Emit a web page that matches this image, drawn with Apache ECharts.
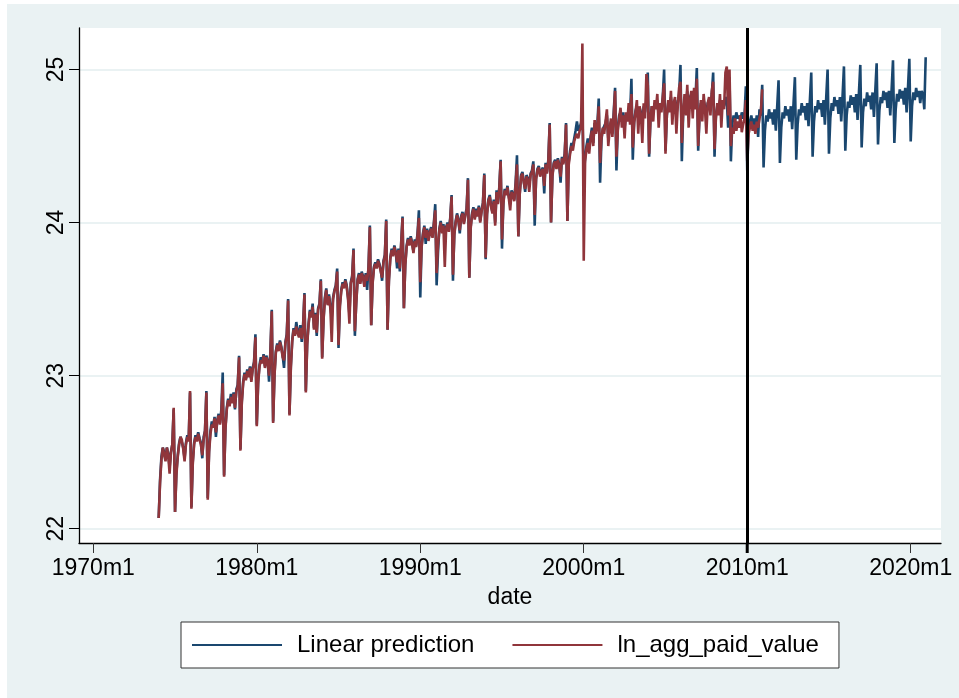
<!DOCTYPE html>
<html>
<head>
<meta charset="utf-8">
<script src="https://cdn.jsdelivr.net/npm/echarts@6/dist/echarts.min.js"></script>
<style>
html,body{margin:0;padding:0;background:#fff;}
#chart{width:959px;height:698px;}
</style>
</head>
<body>
<div id="chart"></div>
<script>
// Stata monthly dates: months since 1960m1
var startYear = 1974;
var refLineMonth = 600; // 2010m1
var xTickValues = [120, 240, 360, 480, 600, 720];
var yTickValues = [22, 23, 24, 25];
var seriesNames = ['Linear prediction', 'ln_agg_paid_value'];

// Linear prediction, one row per year (Jan..Dec), 1974-2020
var predRows = [
[22.07,22.32,22.47,22.53,22.50,22.45,22.53,22.49,22.40,22.50,22.55,22.78],
[22.11,22.37,22.48,22.56,22.60,22.59,22.53,22.46,22.56,22.61,22.58,22.89],
[22.14,22.44,22.56,22.61,22.58,22.63,22.59,22.56,22.46,22.60,22.64,22.90],
[22.20,22.52,22.64,22.70,22.67,22.73,22.60,22.71,22.75,22.69,22.78,23.02],
[22.35,22.66,22.79,22.85,22.81,22.88,22.83,22.89,22.78,22.91,22.94,23.13],
[22.52,22.83,22.96,23.02,22.98,23.04,23.00,23.06,22.97,23.05,23.09,23.27],
[22.68,22.96,23.07,23.12,23.09,23.14,23.06,23.13,23.10,22.96,23.16,23.43],
[22.70,23.01,23.16,23.21,23.17,23.23,23.19,23.13,23.05,23.22,23.27,23.50],
[22.75,23.06,23.23,23.31,23.27,23.35,23.29,23.26,23.33,23.22,23.33,23.54],
[22.90,23.21,23.34,23.43,23.39,23.47,23.31,23.41,23.26,23.44,23.47,23.63],
[23.12,23.37,23.51,23.57,23.47,23.53,23.45,23.38,23.51,23.56,23.59,23.70],
[23.18,23.46,23.56,23.61,23.58,23.63,23.59,23.51,23.40,23.61,23.65,23.83],
[23.26,23.48,23.63,23.67,23.61,23.68,23.65,23.59,23.67,23.56,23.71,23.98],
[23.33,23.61,23.71,23.74,23.71,23.76,23.73,23.69,23.62,23.75,23.79,24.02],
[23.30,23.63,23.77,23.83,23.79,23.85,23.81,23.70,23.83,23.68,23.87,24.04],
[23.44,23.73,23.85,23.90,23.86,23.91,23.87,23.81,23.89,23.85,23.93,24.08],
[23.51,23.85,23.93,23.98,23.86,23.96,23.89,23.94,23.97,23.91,24.00,24.12],
[23.59,23.80,23.96,24.01,23.94,23.99,23.90,23.97,24.00,23.95,24.03,24.18],
[23.62,23.93,24.01,24.06,24.02,23.93,24.04,24.07,24.00,24.05,24.09,24.29],
[23.64,23.97,24.06,24.10,24.03,24.09,24.05,24.11,24.01,24.08,24.13,24.32],
[23.76,24.06,24.15,24.18,24.11,24.07,24.15,24.00,24.21,24.13,24.23,24.41],
[23.83,24.13,24.22,24.19,24.24,24.17,24.12,24.21,24.19,24.15,24.26,24.44],
[23.91,24.19,24.31,24.33,24.27,24.20,24.31,24.29,24.24,24.32,24.34,24.40],
[23.98,24.29,24.35,24.37,24.31,24.34,24.36,24.19,24.39,24.33,24.41,24.65],
[24.00,24.31,24.39,24.41,24.36,24.42,24.38,24.26,24.43,24.39,24.45,24.65],
[24.01,24.40,24.47,24.52,24.50,24.55,24.60,24.66,24.60,24.62,24.65,24.72],
[24.30,24.42,24.50,24.55,24.48,24.56,24.62,24.52,24.65,24.60,24.64,24.81],
[24.26,24.54,24.61,24.60,24.65,24.70,24.55,24.62,24.66,24.58,24.72,24.88],
[24.34,24.62,24.70,24.72,24.66,24.72,24.62,24.70,24.68,24.74,24.70,24.94],
[24.41,24.66,24.73,24.76,24.68,24.75,24.72,24.64,24.76,24.72,24.80,24.98],
[24.43,24.68,24.76,24.72,24.78,24.75,24.80,24.70,24.78,24.74,24.82,25.00],
[24.47,24.70,24.78,24.74,24.82,24.72,24.78,24.80,24.70,24.78,24.84,25.03],
[24.40,24.72,24.80,24.76,24.86,24.74,24.82,24.84,24.76,24.86,24.80,25.01],
[24.47,24.70,24.78,24.74,24.80,24.76,24.70,24.78,24.80,24.74,24.84,24.98],
[24.43,24.70,24.76,24.74,24.80,24.72,24.78,24.76,24.82,24.80,24.62,24.95],
[24.40,24.64,24.70,24.66,24.72,24.68,24.70,24.66,24.72,24.68,24.70,24.89],
[24.34,24.62,24.66,24.70,24.64,24.68,24.62,24.70,24.56,24.74,24.70,24.90],
[24.36,24.60,24.70,24.66,24.74,24.68,24.72,24.64,24.74,24.60,24.76,24.93],
[24.39,24.62,24.72,24.68,24.76,24.70,24.74,24.66,24.76,24.61,24.78,24.95],
[24.41,24.64,24.74,24.70,24.78,24.72,24.76,24.67,24.78,24.63,24.80,24.98],
[24.43,24.66,24.76,24.72,24.80,24.74,24.78,24.69,24.80,24.64,24.82,25.00],
[24.45,24.68,24.78,24.73,24.82,24.76,24.80,24.71,24.82,24.66,24.83,25.02],
[24.47,24.70,24.79,24.75,24.83,24.77,24.82,24.72,24.84,24.67,24.85,25.03],
[24.49,24.72,24.81,24.76,24.85,24.79,24.83,24.74,24.85,24.69,24.86,25.04],
[24.51,24.73,24.82,24.78,24.86,24.80,24.85,24.75,24.86,24.70,24.87,25.06],
[24.52,24.74,24.84,24.79,24.87,24.81,24.86,24.77,24.88,24.72,24.88,25.07],
[24.53,24.76,24.85,24.80,24.88,24.82,24.86,24.78,24.86,24.84,24.74,25.08]
];

// ln_agg_paid_value, one row per year (Jan..Dec), 1974-2010
var actualRows = [
[22.07,22.30,22.45,22.53,22.52,22.44,22.53,22.48,22.36,22.50,22.55,22.79],
[22.11,22.35,22.47,22.55,22.60,22.58,22.52,22.44,22.55,22.60,22.57,22.90],
[22.13,22.42,22.55,22.60,22.57,22.62,22.58,22.55,22.48,22.58,22.64,22.89],
[22.19,22.50,22.62,22.68,22.66,22.72,22.63,22.70,22.74,22.68,22.76,22.95],
[22.34,22.65,22.78,22.84,22.80,22.86,22.82,22.88,22.79,22.90,22.93,23.12],
[22.51,22.82,22.95,23.01,22.97,23.03,22.99,23.05,22.96,23.04,23.08,23.25],
[22.67,22.95,23.06,23.10,23.08,23.13,23.05,23.12,23.09,23.00,23.15,23.42],
[22.69,23.00,23.15,23.20,23.16,23.22,23.18,23.12,23.10,23.21,23.26,23.49],
[22.74,23.05,23.22,23.30,23.26,23.32,23.28,23.25,23.31,23.24,23.32,23.53],
[22.89,23.20,23.33,23.42,23.38,23.45,23.30,23.40,23.28,23.43,23.46,23.62],
[23.11,23.36,23.50,23.56,23.46,23.52,23.44,23.22,23.50,23.55,23.58,23.68],
[23.20,23.45,23.55,23.60,23.57,23.62,23.58,23.50,23.34,23.60,23.64,23.82],
[23.29,23.47,23.62,23.66,23.60,23.67,23.64,23.58,23.66,23.62,23.70,23.97],
[23.33,23.60,23.70,23.73,23.70,23.75,23.72,23.68,23.64,23.74,23.78,24.01],
[23.30,23.62,23.76,23.82,23.78,23.84,23.80,23.74,23.82,23.70,23.86,24.03],
[23.44,23.72,23.84,23.89,23.85,23.90,23.86,23.80,23.88,23.84,23.92,24.03],
[23.61,23.84,23.92,23.97,23.90,23.95,23.88,23.93,23.96,23.90,23.99,24.08],
[23.67,23.85,23.95,24.00,23.93,23.98,23.71,23.96,23.99,23.94,24.02,24.17],
[23.66,23.92,24.00,24.05,24.01,23.95,24.03,24.06,23.99,24.04,24.08,24.28],
[23.64,23.96,24.05,24.09,24.02,24.08,24.04,24.10,24.00,24.07,24.12,24.31],
[23.77,24.05,24.14,24.17,24.10,24.06,24.14,23.98,24.20,24.12,24.22,24.40],
[23.89,24.12,24.21,24.18,24.23,24.16,24.08,24.20,24.18,24.14,24.25,24.38],
[23.91,24.18,24.30,24.32,24.26,24.22,24.30,24.28,24.20,24.31,24.33,24.38],
[24.05,24.28,24.34,24.36,24.30,24.33,24.35,24.24,24.38,24.32,24.40,24.64],
[24.00,24.30,24.38,24.40,24.35,24.41,24.37,24.30,24.42,24.38,24.44,24.64],
[24.01,24.38,24.45,24.50,24.47,24.53,24.56,24.58,24.55,24.60,24.62,25.17],
[23.75,24.40,24.48,24.52,24.45,24.55,24.60,24.50,24.67,24.58,24.62,24.76],
[24.39,24.55,24.62,24.58,24.66,24.74,24.50,24.60,24.68,24.56,24.70,24.86],
[24.43,24.60,24.68,24.75,24.62,24.70,24.55,24.72,24.66,24.78,24.64,24.84],
[24.49,24.65,24.72,24.80,24.58,24.76,24.70,24.52,24.78,24.68,24.97,24.90],
[24.45,24.68,24.76,24.66,24.80,24.74,24.84,24.62,24.78,24.72,24.82,24.91],
[24.45,24.70,24.80,24.72,24.86,24.64,24.78,24.82,24.58,24.76,24.88,24.92],
[24.52,24.72,24.84,24.70,24.90,24.62,24.80,24.86,24.68,24.88,24.74,24.94],
[24.50,24.70,24.80,24.66,24.84,24.74,24.58,24.78,24.82,24.70,24.86,24.92],
[24.48,24.68,24.78,24.70,24.84,24.62,24.80,24.74,24.98,25.02,24.70,25.00],
[24.50,24.62,24.58,24.68,24.60,24.66,24.62,24.70,24.59,24.64,24.68,24.80],
[24.40,24.58,24.62,24.66,24.60,24.64,24.58,24.66,24.62,24.68,24.72,24.87]
];

function toPoints(rows) {
  var out = [];
  for (var i = 0; i < rows.length; i++) {
    for (var j = 0; j < rows[i].length; j++) {
      out.push([(startYear + i - 1960) * 12 + j, rows[i][j]]);
    }
  }
  return out;
}

function monthLabel(v) {
  var y = 1960 + Math.floor(v / 12);
  var m = v - (y - 1960) * 12 + 1;
  return y + 'm' + m;
}

var FONT = '"Liberation Sans", Arial, Helvetica, sans-serif';
var chart = echarts.init(document.getElementById('chart'), null, {renderer: 'canvas'});
chart.setOption({
  animation: false,
  backgroundColor: '#ffffff',
  textStyle: {fontFamily: FONT},
  graphic: [{
    type: 'rect', z: -10, silent: true,
    shape: {x: 7, y: 4, width: 952, height: 694},
    style: {fill: '#eaf2f3'}
  }],
  grid: {left: 79, right: 18, top: 28, bottom: 155, show: true, backgroundColor: '#ffffff', borderWidth: 0},
  xAxis: {
    type: 'value', min: 109.5, max: 742.24,
    name: 'date', nameLocation: 'middle', nameGap: 43,
    nameTextStyle: {fontSize: 23, color: '#000', fontFamily: FONT},
    axisLine: {show: true, onZero: false, lineStyle: {color: '#000', width: 1.3}},
    axisTick: {show: true, length: 10, customValues: xTickValues, lineStyle: {color: '#333', width: 1}},
    axisLabel: {customValues: xTickValues, formatter: monthLabel, fontSize: 23, color: '#000', margin: 14, fontFamily: FONT},
    splitLine: {show: false}
  },
  yAxis: {
    type: 'value', min: 21.9066, max: 25.2711,
    axisLine: {show: true, onZero: false, lineStyle: {color: '#000', width: 1.3}},
    axisTick: {show: true, length: 10, customValues: yTickValues, lineStyle: {color: '#000', width: 1}},
    axisLabel: {customValues: yTickValues, rotate: 90, fontSize: 23, color: '#000', margin: 11, fontFamily: FONT},
    splitLine: {show: true, customValues: yTickValues, lineStyle: {color: '#eaf2f3', width: 2}}
  },
  legend: {
    left: 181, top: 622,
    backgroundColor: '#ffffff', borderColor: '#333', borderWidth: 1,
    padding: [11, 20, 11, 11],
    itemGap: 38, itemWidth: 90, itemHeight: 2,
    icon: 'rect',
    textStyle: {fontSize: 24, color: '#000', fontFamily: FONT, padding: [0, 0, 0, 10]},
    data: seriesNames
  },
  series: [{
    name: seriesNames[0], type: 'line', data: toPoints(predRows),
    symbol: 'none', color: '#1a476f',
    lineStyle: {width: 2.6, color: '#1a476f'},
    markLine: {
      silent: true, symbol: 'none', label: {show: false},
      lineStyle: {color: '#000', width: 3, type: 'solid'},
      data: [{xAxis: refLineMonth}]
    },
    z: 2
  }, {
    name: seriesNames[1], type: 'line', data: toPoints(actualRows),
    symbol: 'none', color: '#90353b',
    lineStyle: {width: 2.6, color: '#90353b'},
    z: 3
  }]
});

// thick tick under the reference line, positioned through the axis scale
var px = chart.convertToPixel({xAxisIndex: 0}, refLineMonth);
var axisY = chart.convertToPixel({yAxisIndex: 0}, 21.9066);
chart.setOption({
  graphic: [{
    type: 'rect', z: -10, silent: true,
    shape: {x: 7, y: 4, width: 952, height: 694},
    style: {fill: '#eaf2f3'}
  }, {
    type: 'line', silent: true, z: 100,
    shape: {x1: px, y1: axisY, x2: px, y2: axisY + 10},
    style: {stroke: '#000', lineWidth: 3}
  }]
});
</script>
</body>
</html>
